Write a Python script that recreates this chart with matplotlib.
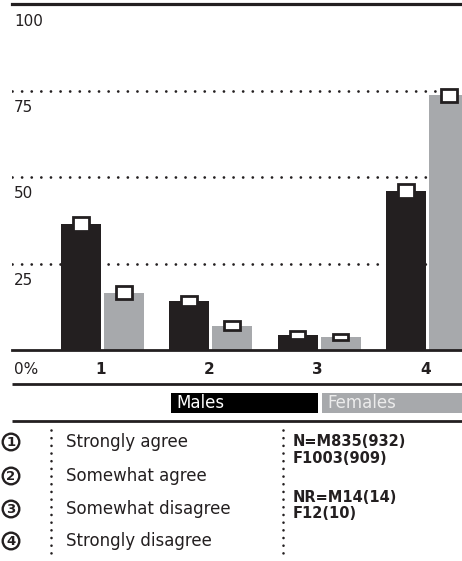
import matplotlib
matplotlib.use("Agg")
import matplotlib.pyplot as plt
from matplotlib.patches import Circle, Rectangle
import numpy as np

# ---- data ----
categories = ['1', '2', '3', '4']
males = [36.3, 14.2, 4.3, 45.9]
females = [16.6, 7.0, 3.8, 73.6]
male_ci = [2.0, 1.5, 1.05, 2.1]
female_ci = [1.8, 1.35, 0.95, 1.95]
y_ticks = [25, 50, 75, 100]
y_tick_labels = ['25', '50', '75', '100']
series_names = ['Males', 'Females']
answer_labels = ['Strongly agree', 'Somewhat agree', 'Somewhat disagree', 'Strongly disagree']
notes = ['N=M835(932)', 'F1003(909)', 'NR=M14(14)', 'F12(10)']

DARK = '#231f20'
GREY = '#a7a9ac'
W, H = 462, 561
plt.rcParams['font.family'] = ['DejaVu Sans']

fig = plt.figure(figsize=(W / 100, H / 100), dpi=100)
fig.patch.set_facecolor('white')

# main axes in pixel layout
ax_left, ax_right, ax_top, ax_bottom = 12, 462, 4, 350
ax = fig.add_axes([ax_left / W, (H - ax_bottom) / H, (ax_right - ax_left) / W, (ax_bottom - ax_top) / H])
ax.set_xlim(-0.835, 3.319)
ax.set_ylim(0, 100)
ax.axis('off')

x = np.arange(len(categories))
off = 0.1985
bw = 0.369

# dotted grid lines
for t in y_ticks[:-1]:
    ax.axhline(t, color=DARK, lw=2.0, linestyle=(0, (0.01, 3.45)), dash_capstyle='round', zorder=1)
# top and base lines
ax.axhline(100, color=DARK, lw=2.3, zorder=3, clip_on=False)
ax.axhline(0, color=DARK, lw=2.0, zorder=3, clip_on=False)

ax.bar(x - off, males, width=bw, color=DARK, zorder=2)
ax.bar(x + off, females, width=bw, color=GREY, zorder=2)

mw = 0.145
ax.bar(x - off, 2 * np.array(male_ci), bottom=np.array(males) - np.array(male_ci), width=mw,
       color='white', edgecolor=DARK, lw=2.0, zorder=4)
ax.bar(x + off, 2 * np.array(female_ci), bottom=np.array(females) - np.array(female_ci), width=mw,
       color='white', edgecolor=DARK, lw=2.0, zorder=4)

# y labels under lines
for t, lab in zip(y_ticks, y_tick_labels):
    ax.annotate(lab, xy=(0, t), xycoords=('axes fraction', 'data'), xytext=(2, -17),
                textcoords='offset pixels', ha='left', va='center', fontsize=11, color=DARK)
ax.annotate('0%', xy=(0, 0), xycoords=('axes fraction', 'data'), xytext=(2, -20),
            textcoords='offset pixels', ha='left', va='center', fontsize=11, color=DARK)
for xi, c in zip(x, categories):
    ax.annotate(c, xy=(xi, 0), xycoords='data', xytext=(-2, -20), textcoords='offset pixels',
                ha='center', va='center', fontsize=11, fontweight='bold', color=DARK)

# overlay for legend area (pixel coordinates)
ov = fig.add_axes([0, 0, 1, 1])
ov.set_xlim(0, W)
ov.set_ylim(H, 0)
ov.axis('off')
ov.patch.set_alpha(0)

ov.plot([12, 462], [383.5, 383.5], color=DARK, lw=2.0, solid_capstyle='butt')
ov.plot([12, 462], [420.5, 420.5], color=DARK, lw=2.0, solid_capstyle='butt')
ov.add_patch(Rectangle((171, 393), 147, 19.5, color='black', lw=0))
ov.add_patch(Rectangle((322, 393), 145, 19.5, color=GREY, lw=0))
ov.text(176, 403, series_names[0], color='white', fontsize=12, ha='left', va='center')
ov.text(327, 403, series_names[1], color='#ececec', fontsize=12, ha='left', va='center')

rows_y = [442, 476, 509, 541]
for i, (yy, lab) in enumerate(zip(rows_y, answer_labels)):
    ov.add_patch(Circle((11, yy), 8.3, facecolor='white', edgecolor=DARK, lw=1.7))
    ov.text(11, yy + 0.5, categories[i], fontsize=9.5, fontweight='bold', ha='center', va='center', color=DARK)
    ov.text(66, yy, lab, fontsize=12, ha='left', va='center', color=DARK)

for xv in [51, 283]:
    ov.plot([xv, xv], [430, 554], color=DARK, lw=1.9, linestyle=(0, (0.01, 2.9)), dash_capstyle='round')

for yy, n in zip([441, 458, 497, 514], notes):
    ov.text(293, yy, n, fontsize=10.5, fontweight='bold', ha='left', va='center', color=DARK)

fig.savefig('out.png', dpi=100, facecolor='white')
